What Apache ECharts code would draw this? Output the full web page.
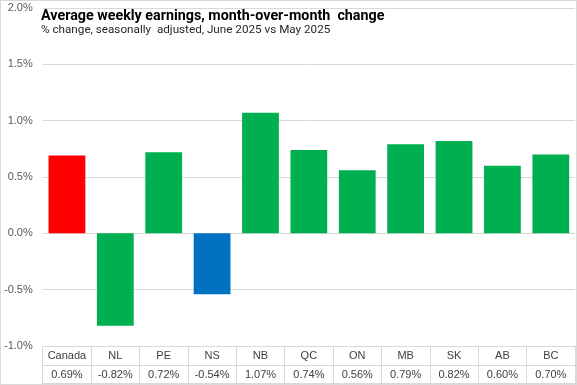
<!DOCTYPE html>
<html><head><meta charset="utf-8">
<script src="https://cdn.jsdelivr.net/npm/echarts@6/dist/echarts.min.js"></script>
<style>
html,body{margin:0;padding:0;background:#fff;}
#c{width:577px;height:385px;box-sizing:border-box;border:1px solid #d9d9d9;}
</style></head>
<body><div id="c"></div>
<script>
const categories = ['Canada','NL','PE','NS','NB','QC','ON','MB','SK','AB','BC'];
const values = [0.69,-0.82,0.72,-0.54,1.07,0.74,0.56,0.79,0.82,0.60,0.70];
const yTicks = [-1.0,-0.5,0.0,0.5,1.0,1.5,2.0];
const titleText = 'Average weekly earnings, month-over-month  change';
const subText = '% change, seasonally  adjusted, June 2025 vs May 2025';

const colorFor = c => c === 'Canada' ? '#FF0000' : (c === 'NS' ? '#0070C0' : '#00B050');
const valueLabels = values.map(v => v.toFixed(2) + '%');

const chart = echarts.init(document.getElementById('c'));
const lineColor = '#d9d9d9';
chart.setOption({
  animation: false,
  title: {
    text: titleText,
    subtext: subText,
    left: 40, top: 8, padding: 0,
    itemGap: 1,
    textStyle: {fontFamily: 'Roboto', fontWeight: 'bold', fontSize: 14.3, color: '#000'},
    subtextStyle: {fontFamily: 'Roboto', fontSize: 11.7, color: '#262626'}
  },
  grid: {left: 40, right: 1, top: 7, bottom: 38, containLabel: false},
  xAxis: [{
    type: 'category',
    data: categories,
    position: 'bottom',
    axisLine: {onZero: false, lineStyle: {color: lineColor}},
    axisTick: {show: true, length: 38, interval: 0, lineStyle: {color: lineColor}},
    axisLabel: {
      interval: 0, margin: 0,
      formatter: (c, i) => '{a|' + c + '}\n{b|' + valueLabels[i] + '}',
      rich: {
        a: {fontFamily: 'Liberation Sans', fontSize: 11, color: '#404040', lineHeight: 19},
        b: {fontFamily: 'Liberation Sans', fontSize: 11, color: '#404040', lineHeight: 19}
      }
    }
  }, {
    type: 'category', data: categories, position: 'bottom', offset: 19,
    axisLine: {onZero: false, lineStyle: {color: lineColor}},
    axisTick: {show: false}, axisLabel: {show: false}
  }, {
    type: 'category', data: categories, position: 'bottom', offset: 37,
    axisLine: {onZero: false, lineStyle: {color: lineColor}},
    axisTick: {show: false}, axisLabel: {show: false}
  }],
  yAxis: {
    type: 'value',
    min: yTicks[0], max: yTicks[yTicks.length - 1], interval: 0.5,
    axisLine: {show: false}, axisTick: {show: false},
    splitLine: {lineStyle: {color: lineColor}},
    axisLabel: {
      margin: 10,
      formatter: v => v.toFixed(1) + '%',
      fontFamily: 'Liberation Sans', fontSize: 11, color: '#595959'
    }
  },
  series: [{
    type: 'bar',
    barWidth: '76%',
    data: values.map((v, i) => ({value: v, itemStyle: {color: colorFor(categories[i])}}))
  }]
});
</script></body></html>
